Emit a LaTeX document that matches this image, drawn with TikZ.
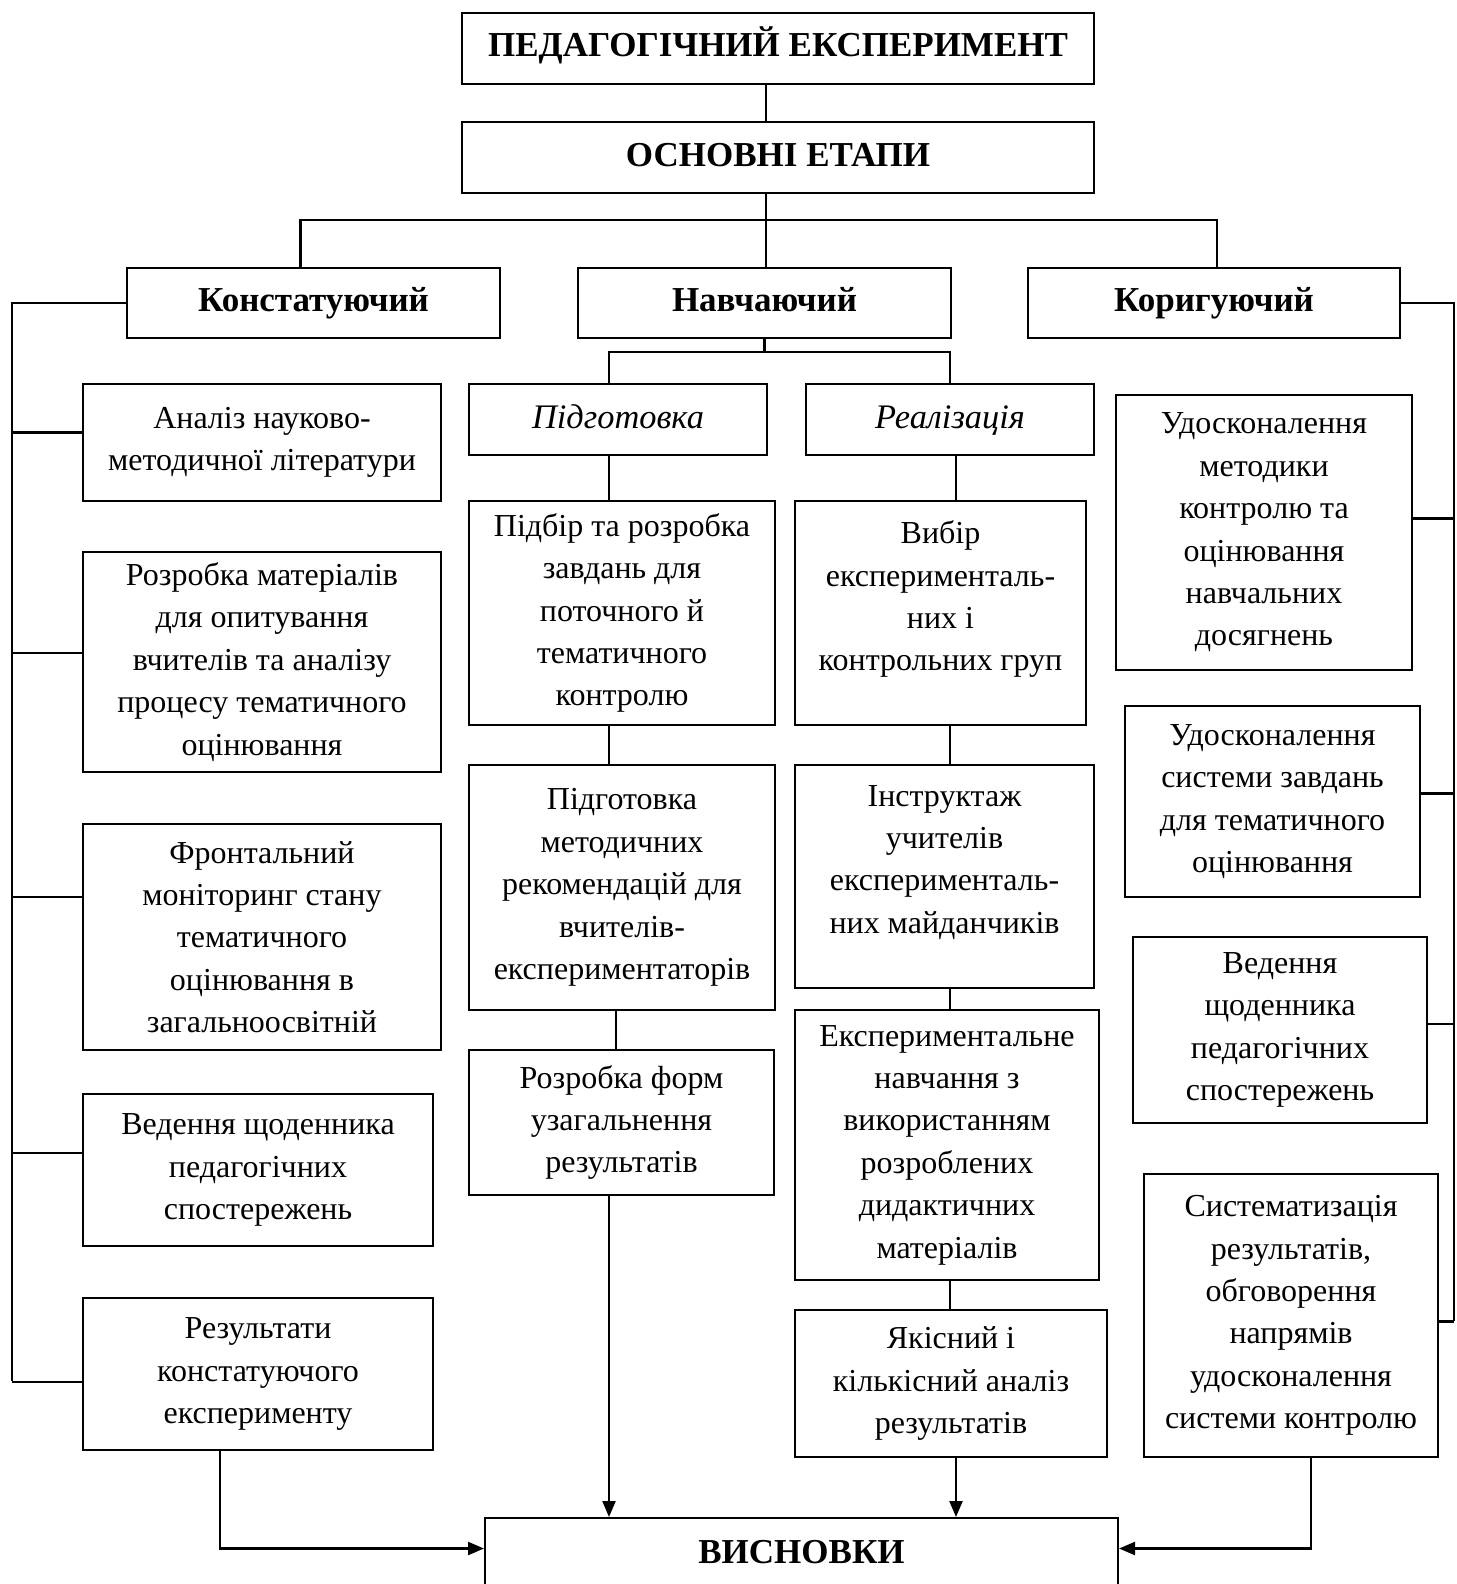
\documentclass[tikz,border=0pt]{standalone}
\usepackage{fontspec}
\setmainfont{Liberation Serif}
\usetikzlibrary{arrows.meta}
\tikzset{
  exp box/.style={draw, line width=1pt, inner sep=0pt, align=center, anchor=north west,
    font=\fontsize{16}{21.2}\selectfont},
  exp head/.style={exp box, text height=12pt, text depth=3.5pt,
    font=\fontsize{17.5}{20}\selectfont\bfseries},
  exp sub/.style={exp box, text height=12pt, text depth=3.5pt,
    font=\fontsize{17.2}{20}\selectfont\itshape},
  exp line/.style={line width=1.1pt},
  exp arrow/.style={exp line, -{Triangle[length=8pt,width=6.5pt]}},
}

\begin{document}
\begin{tikzpicture}[x=0.5pt,y=-0.5pt]
  \useasboundingbox (0,0) rectangle (1456,1584);

  % Title boxes
  \node[exp head, minimum width=316pt, minimum height=35.5pt] (exper) at (461,12) {ПЕДАГОГІЧНИЙ ЕКСПЕРИМЕНТ};
  \node[exp head, minimum width=316pt, minimum height=35.5pt] (etapy) at (461,121) {ОСНОВНІ ЕТАПИ};

  % Stages
  \node[exp head, minimum width=186.5pt, minimum height=35pt] (konst) at (126,267) {Констатуючий};
  \node[exp head, minimum width=186.5pt, minimum height=35pt] (navch) at (577,267) {Навчаючий};
  \node[exp head, minimum width=186pt, minimum height=35pt] (koryg) at (1027,267) {Коригуючий};

  % Parts of the teaching stage
  \node[exp sub, minimum width=149pt, minimum height=35.5pt] (pidg) at (468,383) {Підготовка};
  \node[exp sub, minimum width=144pt, minimum height=35.5pt] (real) at (805,383) {Реалізація};

  % Left column
  \node[exp box, minimum width=179pt, minimum height=58.5pt] (analiz) at (82,383)
    {Аналіз науково-\\методичної літератури};
  \node[exp box, minimum width=179pt, minimum height=110pt] (rozrobka) at (82,551)
    {Розробка матеріалів\\для опитування\\вчителів та аналізу\\процесу тематичного\\оцінювання};
  \node[exp box, minimum width=179pt, minimum height=113pt] (front) at (82,823)
    {Фронтальний\\моніторинг стану\\тематичного\\оцінювання в\\загальноосвітній};
  \node[exp box, minimum width=175pt, minimum height=76pt] (vedennia) at (82,1093)
    {Ведення щоденника\\педагогічних\\спостережень};
  \node[exp box, minimum width=175pt, minimum height=76pt] (rezult) at (82,1297)
    {Результати\\констатуючого\\експерименту};

  % Preparation column
  \node[exp box, minimum width=153pt, minimum height=112pt] (pidbir) at (468,500)
    {Підбір та розробка\\завдань для\\поточного й\\тематичного\\контролю};
  \node[exp box, minimum width=153pt, minimum height=122.5pt] (metod) at (468,764)
    {Підготовка\\методичних\\рекомендацій для\\вчителів-\\експериментаторів};
  \node[exp box, minimum width=152.5pt, minimum height=72.5pt] (formy) at (468,1049)
    {Розробка форм\\узагальнення\\результатів};

  % Realisation column
  \node[exp box, minimum width=145.5pt, minimum height=112pt] (vybir) at (794,500)
    {Вибір\\експерименталь-\\них і\\контрольних груп\\[-4pt]\mbox{}};
  \node[exp box, minimum width=149.5pt, minimum height=111.5pt] (instr) at (794,764)
    {Інструктаж\\учителів\\експерименталь-\\них майданчиків\\[-4pt]\mbox{}};
  \node[exp box, minimum width=152pt, minimum height=135pt] (navchan) at (794,1009)
    {Експериментальне\\навчання з\\використанням\\розроблених\\дидактичних\\матеріалів};
  \node[exp box, minimum width=156pt, minimum height=73.5pt] (yakisn) at (794,1309)
    {Якісний і\\кількісний аналіз\\результатів};

  % Right column
  \node[exp box, minimum width=148pt, minimum height=137.5pt] (udmet) at (1115,394)
    {Удосконалення\\методики\\контролю та\\оцінювання\\навчальних\\досягнень};
  \node[exp box, minimum width=147.5pt, minimum height=95.5pt] (udsys) at (1124,705)
    {Удосконалення\\системи завдань\\для тематичного\\оцінювання};
  \node[exp box, minimum width=147pt, minimum height=93pt] (vedk) at (1132,936)
    {Ведення\\щоденника\\педагогічних\\спостережень};
  \node[exp box, minimum width=147pt, minimum height=141.5pt] (syst) at (1143,1173)
    {Систематизація\\результатів,\\обговорення\\напрямів\\удосконалення\\системи контролю};

  % Conclusions
  \node[exp head, minimum width=316.5pt, minimum height=36.5pt] (vysn) at (484,1517) {ВИСНОВКИ};

  % Trunk
  \coordinate (bus) at (766,220);
  \draw[exp line] (exper.south -| bus) -- (etapy.north -| bus);
  \draw[exp line] (etapy.south -| bus) -- (bus);
  \draw[exp line] ([xshift=-6.5pt]konst.north) |- (bus) -| ([xshift=1.5pt]koryg.north);
  \draw[exp line] (bus) -- (navch.north -| bus);

  % Left bus
  \coordinate (lbus) at (12,1381);
  \draw[exp line] (konst.west) -| (lbus);
  \draw[exp line] ([yshift=5pt]analiz.west) -- ([yshift=5pt]analiz.west -| lbus);
  \draw[exp line] ([yshift=4.5pt]rozrobka.west) -- ([yshift=4.5pt]rozrobka.west -| lbus);
  \draw[exp line] ([yshift=20pt]front.west) -- ([yshift=20pt]front.west -| lbus);
  \draw[exp line] ([yshift=8.5pt]vedennia.west) -- ([yshift=8.5pt]vedennia.west -| lbus);
  \draw[exp line] ([yshift=-4pt]rezult.west) -- ([yshift=-4pt]rezult.west -| lbus);

  % Right bus
  \coordinate (rbus) at (1454,1321);
  \draw[exp line] (koryg.east) -| (rbus);
  \draw[exp line] ([yshift=7pt]udmet.east) -- ([yshift=7pt]udmet.east -| rbus);
  \draw[exp line] ([yshift=4pt]udsys.east) -- ([yshift=4pt]udsys.east -| rbus);
  \draw[exp line] ([yshift=3pt]vedk.east) -- ([yshift=3pt]vedk.east -| rbus);
  \draw[exp line] ([yshift=-3pt]syst.east) -- ([yshift=-3pt]syst.east -| rbus);

  % Teaching stage split
  \coordinate (nbus) at (763,352);
  \draw[exp line] (navch.south) -- (navch.south |- nbus);
  \draw[exp line] ([xshift=-4.5pt]pidg.north) |- (nbus) -| (real.north);

  % Preparation chain
  \draw[exp line] ([xshift=-4.5pt]pidg.south) -- ([xshift=-4.5pt]pidg.south |- pidbir.north);
  \draw[exp line] ([xshift=-4.5pt]pidg.south |- pidbir.south) -- ([xshift=-4.5pt]pidg.south |- metod.north);
  \draw[exp line] ([xshift=-3pt]metod.south) -- ([xshift=-3pt]metod.south |- formy.north);
  \draw[exp arrow] ([xshift=-4.5pt]pidg.south |- formy.south) -- ([xshift=-4.5pt]pidg.south |- vysn.north);

  % Realisation chain
  \draw[exp line] ([xshift=3pt]real.south) -- ([xshift=3pt]real.south |- vybir.north);
  \draw[exp line] (real.south |- vybir.south) -- (real.south |- instr.north);
  \draw[exp line] (real.south |- instr.south) -- (real.south |- navchan.north);
  \draw[exp line] (real.south |- navchan.south) -- (real.south |- yakisn.north);
  \draw[exp arrow] ([xshift=3pt]real.south |- yakisn.south) -- ([xshift=3pt]real.south |- vysn.north);

  % Side arrows into conclusions
  \draw[exp arrow] ([xshift=-19pt]rezult.south) |- ([yshift=3pt]vysn.west);
  \draw[exp arrow] ([xshift=10pt]syst.south) |- ([yshift=3pt]vysn.east);
\end{tikzpicture}
\end{document}
